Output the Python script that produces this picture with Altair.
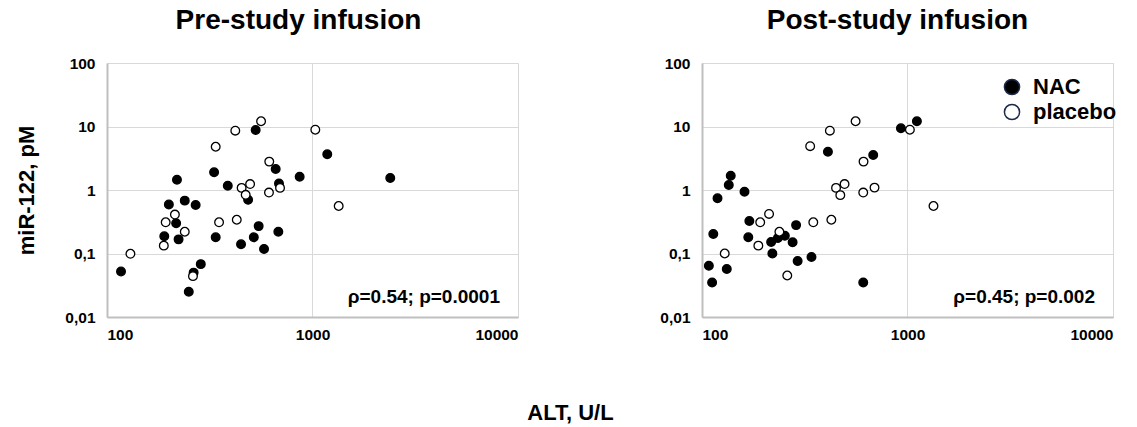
import altair as alt
import pandas as pd

# ---- data (ALT U/L, miR-122 pM) ----
pre_nac_alt = [529, 1180, 662, 332, 866, 219, 387, 687, 486, 200, 239, 270, 217, 547, 190, 223, 338, 518, 682, 449, 581, 117, 286, 264, 250, 2390]
pre_nac_mir = [8.8, 3.65, 2.14, 1.9, 1.62, 1.45, 1.17, 1.27, 0.70, 0.59, 0.68, 0.58, 0.30, 0.27, 0.187, 0.167, 0.18, 0.18, 0.22, 0.14, 0.118, 0.052, 0.068, 0.050, 0.025, 1.55]
pre_pla_alt = [562, 421, 1032, 338, 616, 452, 497, 695, 614, 473, 214, 193, 351, 428, 239, 189, 1341, 130, 262]
pre_pla_mir = [12.1, 8.6, 8.9, 4.8, 2.8, 1.08, 1.24, 1.08, 0.91, 0.84, 0.41, 0.31, 0.31, 0.34, 0.22, 0.133, 0.56, 0.099, 0.044]

post_nac_alt = [929, 1111, 410, 681, 138, 135, 161, 119, 170, 113.5, 168, 287, 234, 253, 217, 276, 220, 341, 292, 108, 132, 112, 609]
post_nac_mir = [9.4, 12.1, 4.0, 3.56, 1.68, 1.2, 0.94, 0.74, 0.325, 0.203, 0.18, 0.28, 0.175, 0.19, 0.152, 0.15, 0.10, 0.088, 0.076, 0.064, 0.057, 0.035, 0.035]
post_pla_alt = [559, 419, 1027, 336, 611, 449, 494, 471, 609, 691, 1338, 192, 212, 348, 426, 238, 188, 129, 260]
post_pla_mir = [12.1, 8.6, 8.9, 4.9, 2.8, 1.08, 1.24, 0.83, 0.91, 1.09, 0.56, 0.31, 0.42, 0.31, 0.34, 0.22, 0.133, 0.10, 0.045]

groups = ["NAC", "placebo"]
titles = ["Pre-study infusion", "Post-study infusion"]
annots = ["\u03c1=0.54; p=0.0001", "\u03c1=0.45; p=0.002"]
x_ticks = [100, 1000, 10000]
y_ticks = [0.01, 0.1, 1, 10, 100]

FONT = "Liberation Sans"


def make_df(nac_x, nac_y, pla_x, pla_y):
    rows = [{"alt": a, "mir": m, "group": "NAC"} for a, m in zip(nac_x, nac_y)]
    rows += [{"alt": a, "mir": m, "group": "placebo"} for a, m in zip(pla_x, pla_y)]
    return pd.DataFrame(rows)


def panel(df, title, annot, first):
    yaxis = alt.Axis(
        values=y_ticks, format="~g", labelExpr="replace(datum.label, '.', ',')",
        title="miR-122, pM" if first else None,
        titleFontSize=22, titleFont=FONT, titleFontWeight="bold", titleColor="black",
        titlePadding=26,
        labelFont=FONT, labelFontSize=15.5, labelFontWeight="bold", labelColor="black",
        labelPadding=12, ticks=False, grid=True, gridColor="#d9d9d9",
        domainColor="#bfbfbf", domainWidth=2,
    )
    xaxis = alt.Axis(
        values=x_ticks, format="~g", title=None,
        labelFont=FONT, labelFontSize=15.5, labelFontWeight="bold", labelColor="black",
        labelPadding=10, ticks=False, grid=True, gridColor="#d9d9d9",
        domainColor="#bfbfbf", domainWidth=2,
    )
    legend = None
    if not first:
        legend = alt.Legend(
            title=None, orient="none", legendX=299, legendY=13,
            labelFont=FONT, labelFontSize=22, labelFontWeight="bold", labelColor="black",
            symbolSize=230, symbolStrokeColor="#1b2a4a", symbolStrokeWidth=1.5,
            rowPadding=3, labelOffset=10,
        )
    pts = alt.Chart(df).mark_circle(size=75, stroke="black", strokeWidth=1.3, opacity=1).encode(
        x=alt.X("alt:Q", scale=alt.Scale(type="log", domain=[100, 10000]), axis=xaxis),
        y=alt.Y("mir:Q", scale=alt.Scale(type="log", domain=[0.01, 100]), axis=yaxis),
        fill=alt.Fill("group:N", scale=alt.Scale(domain=groups, range=["black", "white"]), legend=legend),
    )
    txt = alt.Chart(pd.DataFrame({"t": [annot]})).mark_text(
        font=FONT, fontSize=19, fontWeight="bold", align="right", baseline="middle", color="black"
    ).encode(text="t:N", x=alt.value(393), y=alt.value(234))
    return alt.layer(pts, txt).properties(
        width=411, height=254,
        title=alt.TitleParams(title, fontSize=28, font=FONT, fontWeight="bold", color="black",
                              anchor="middle", frame="group", offset=21,
                              dx=-14 if first else -10),
    )


left = panel(make_df(pre_nac_alt, pre_nac_mir, pre_pla_alt, pre_pla_mir), titles[0], annots[0], True)
right = panel(make_df(post_nac_alt, post_nac_mir, post_pla_alt, post_pla_mir), titles[1], annots[1], False)

chart = alt.hconcat(left, right, spacing=140).resolve_legend(fill="independent").properties(
    title=alt.TitleParams("ALT, U/L", orient="bottom", anchor="middle", fontSize=22, font=FONT,
                          fontWeight="bold", color="black", offset=60, dx=4),
    padding={"left": 15, "top": 6, "right": 0, "bottom": 2},
).configure_view(stroke="#d9d9d9", strokeWidth=1).configure(background="white")

chart.save("out.html", embed_options={"renderer": "svg", "actions": False})
